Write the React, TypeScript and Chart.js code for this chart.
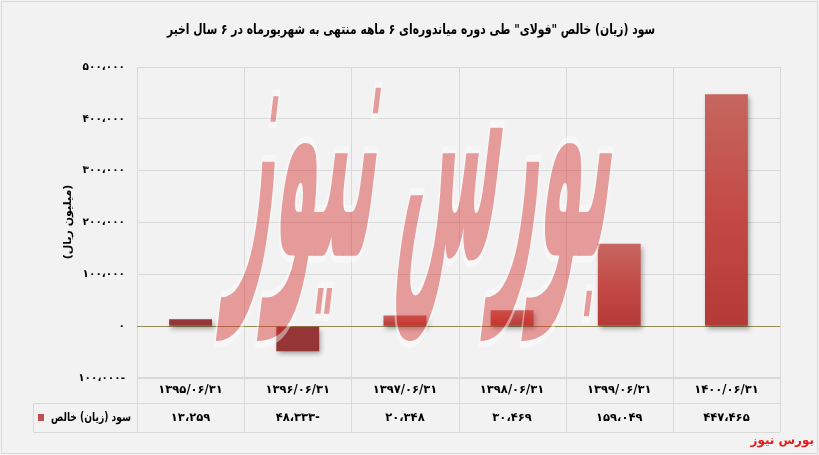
import React, { useEffect, useRef } from 'react';
import { Chart, registerables } from 'chart.js';

Chart.register(...registerables);

const TITLE = 'سود (زیان) خالص "فولای" طی دوره میاندوره‌ای ۶ ماهه منتهی به شهریورماه در ۶ سال اخیر';
const Y_TITLE = '(میلیون ریال)';
const SERIES_NAME = 'سود (زیان) خالص';
const WATERMARK = 'بورس نیوز';
const FOOTER = 'بورس نیوز';

const categories = ['۱۳۹۵/۰۶/۳۱', '۱۳۹۶/۰۶/۳۱', '۱۳۹۷/۰۶/۳۱', '۱۳۹۸/۰۶/۳۱', '۱۳۹۹/۰۶/۳۱', '۱۴۰۰/۰۶/۳۱'];
const netProfit = [13259, -48333, 20348, 30469, 159049, 447465];
const yMin = -100000;
const yMax = 500000;
const yStep = 100000;

// style only
const darkBars = [true, true, false, false, false, false];

const FONT = "'DejaVu Sans', sans-serif";
const PD = ['۰', '۱', '۲', '۳', '۴', '۵', '۶', '۷', '۸', '۹'];

function fa(n: number): string {
  const s = Math.abs(Math.round(n)).toString().replace(/\B(?=(\d{3})+(?!\d))/g, ',');
  const t = s.replace(/\d/g, (d) => PD[+d]).replace(/,/g, '،');
  return n < 0 ? t + '-' : t;
}

const GRID = '#d9d9d9';

function fitText(ctx: CanvasRenderingContext2D, text: string, x: number, y: number, maxW: number, align: 'center' | 'right') {
  const w = ctx.measureText(text).width;
  const s = Math.min(1, maxW / w);
  ctx.save();
  ctx.translate(x, y);
  ctx.scale(s, 1);
  ctx.textAlign = align;
  ctx.fillText(text, 0, 0);
  ctx.restore();
  return w * s;
}

const decor = {
  id: 'decor',
  beforeDraw(chart: any) {
    const ctx = chart.ctx;
    ctx.save();
    ctx.fillStyle = '#f2f2f2';
    ctx.fillRect(0, 0, chart.width, chart.height);
    ctx.strokeStyle = '#d3dce6';
    ctx.lineWidth = 1;
    ctx.strokeRect(1.5, 1.5, chart.width - 3, chart.height - 3);
    // title
    ctx.fillStyle = '#000';
    ctx.font = `bold 14px ${FONT}`;
    ctx.textBaseline = 'middle';
    fitText(ctx, TITLE, 411, 30, 488, 'center');
    // y title
    ctx.translate(68, 222);
    ctx.rotate(-Math.PI / 2);
    ctx.font = `bold 11px ${FONT}`;
    ctx.textAlign = 'center';
    ctx.fillText(Y_TITLE, 0, 0);
    ctx.restore();
  },
  beforeDatasetsDraw(chart: any) {
    const ctx = chart.ctx;
    const x = chart.scales.x;
    const area = chart.chartArea;
    const half = (x.getPixelForValue(1) - x.getPixelForValue(0)) / 2;
    ctx.save();
    ctx.strokeStyle = GRID;
    ctx.lineWidth = 1;
    for (let i = 0; i <= categories.length; i++) {
      const px = Math.round((i < categories.length ? x.getPixelForValue(i) - half : x.getPixelForValue(i - 1) + half)) + 0.5;
      ctx.beginPath();
      ctx.moveTo(px, area.top);
      ctx.lineTo(px, 432);
      ctx.stroke();
    }
    const y0 = Math.round(chart.scales.y.getPixelForValue(0)) + 0.5;
    ctx.strokeStyle = '#948a54';
    ctx.beginPath();
    ctx.moveTo(area.left, y0);
    ctx.lineTo(area.right, y0);
    ctx.stroke();
    ctx.restore();
    // shadow for bars
    ctx.save();
    ctx.shadowColor = 'rgba(0,0,0,0.35)';
    ctx.shadowBlur = 5;
    ctx.shadowOffsetX = 2;
    ctx.shadowOffsetY = 3;
  },
  afterDatasetsDraw(chart: any) {
    const ctx = chart.ctx;
    ctx.restore();
    const x = chart.scales.x;
    const area = chart.chartArea;

    // watermark
    const off = document.createElement('canvas');
    off.width = chart.width;
    off.height = chart.height;
    const o = off.getContext('2d') as CanvasRenderingContext2D;
    o.font = `bold 100px ${FONT}`;
    o.textBaseline = 'alphabetic';
    o.textAlign = 'left';
    const m = o.measureText(WATERMARK);
    const w = m.actualBoundingBoxLeft + m.actualBoundingBoxRight;
    const h = m.actualBoundingBoxAscent + m.actualBoundingBoxDescent;
    const bx = 215, by = 88, bw = 375, bh = 255;
    const sk = -0.12;
    o.save();
    o.translate(bx - sk * bh, by);
    o.transform(1, 0, sk, 1, 0, 0);
    o.scale(bw / w, bh / h);
    o.lineJoin = 'round';
    o.strokeStyle = '#ffffff';
    o.lineWidth = 4;
    o.strokeText(WATERMARK, m.actualBoundingBoxLeft, m.actualBoundingBoxAscent);
    o.fillStyle = 'rgb(213,50,46)';
    o.fillText(WATERMARK, m.actualBoundingBoxLeft, m.actualBoundingBoxAscent);
    o.restore();
    ctx.save();
    ctx.globalAlpha = 0.45;
    ctx.drawImage(off, 0, 0);
    ctx.restore();

    // data table
    ctx.save();
    ctx.strokeStyle = GRID;
    ctx.lineWidth = 1;
    const left = 33.5;
    const r1 = 377.5, r2 = 403.5, r3 = 432.5;
    ctx.beginPath();
    ctx.moveTo(area.left, r1); ctx.lineTo(area.right, r1);
    ctx.moveTo(left, r2); ctx.lineTo(area.right, r2);
    ctx.moveTo(left, r3); ctx.lineTo(area.right, r3);
    ctx.moveTo(left, r2); ctx.lineTo(left, r3);
    ctx.stroke();

    ctx.fillStyle = '#000';
    ctx.textAlign = 'center';
    ctx.textBaseline = 'middle';
    ctx.font = `bold 11.5px ${FONT}`;
    categories.forEach((c, i) => {
      const cx = x.getPixelForValue(i);
      ctx.fillText(c, cx, 390);
      ctx.fillText(fa(netProfit[i]), cx, 418);
    });
    // legend cell
    ctx.font = `bold 12px ${FONT}`;
    fitText(ctx, SERIES_NAME, 131, 418, 80, 'right');
    ctx.fillStyle = '#c0504d';
    ctx.fillRect(38, 414, 6, 7);
    // footer
    ctx.fillStyle = '#e41a1a';
    ctx.font = `bold 12px ${FONT}`;
    ctx.textAlign = 'right';
    ctx.fillText(FOOTER, 814, 441);
    ctx.restore();
  },
};

export default function App() {
  const ref = useRef<HTMLCanvasElement | null>(null);
  useEffect(() => {
    document.body.style.margin = '0';
    const canvas = ref.current!;
    const chart = new Chart(canvas, {
      type: 'bar',
      data: {
        labels: categories,
        datasets: [
          {
            label: SERIES_NAME,
            data: netProfit,
            categoryPercentage: 1,
            barPercentage: 0.4,
            borderWidth: 0,
            backgroundColor: (c: any) => {
              const chart = c.chart;
              const i = c.dataIndex;
              if (!chart.chartArea || i == null) return '#c0504d';
              if (darkBars[i]) return '#953535';
              const y = chart.scales.y;
              const v = netProfit[i];
              const top = y.getPixelForValue(Math.max(v, 0));
              const bot = y.getPixelForValue(Math.min(v, 0));
              const g = chart.ctx.createLinearGradient(0, top, 0, bot);
              g.addColorStop(0, '#c6675f');
              g.addColorStop(0.5, '#c34a47');
              g.addColorStop(1, '#b33a37');
              return g;
            },
          },
        ],
      },
      options: {
        responsive: false,
        animation: false,
        layout: { padding: { top: 67, bottom: 77, right: 39, left: 0 } },
        plugins: {
          legend: { display: false },
          title: { display: false },
          tooltip: { enabled: false },
        },
        scales: {
          x: { display: false },
          y: {
            min: yMin,
            max: yMax,
            afterFit: (s: any) => { s.width = 137; },
            border: { display: false },
            grid: {
              drawTicks: false,
              color: (c: any) => (c.tick && c.tick.value === 0 ? '#948a54' : GRID),
            },
            ticks: {
              stepSize: yStep,
              padding: 12,
              color: '#000',
              font: { family: FONT, size: 10.5, weight: 'bold' },
              callback: (v: any) => fa(Number(v)),
            },
          },
        },
      },
      plugins: [decor],
    });
    return () => chart.destroy();
  }, []);
  return <canvas ref={ref} width={819} height={455} style={{ display: 'block' }} />;
}
